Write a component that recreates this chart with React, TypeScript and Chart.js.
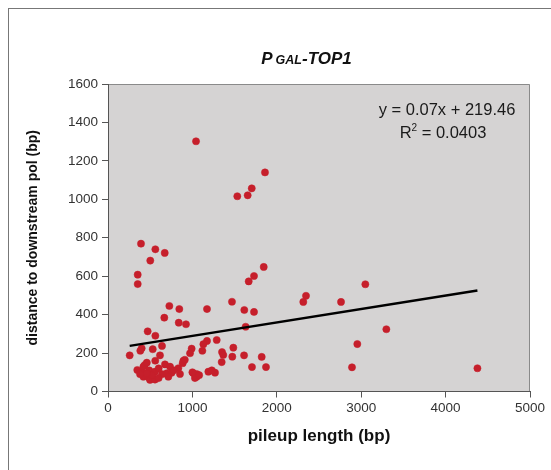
import React, { useEffect, useRef } from 'react';
import { Chart, registerables } from 'chart.js';

Chart.register(...registerables);

// pileup length (bp)
const pileupLength = [
  1043, 1532, 1655, 1703, 1860,
  391, 561, 672, 501, 352, 352,
  1845, 1730, 1667, 1469, 2346, 2314,
  3049, 2761, 3298, 2954, 2891, 4377,
  727, 845, 1173, 1615, 1730,
  667, 838, 924, 1631,
  470, 561, 1288, 1173, 1130,
  640, 399, 991, 1485, 530, 383, 1118, 1351,
  616, 972, 257, 1366, 1612, 1473, 1821,
  1347, 893, 885, 1706, 1872,
  435, 675, 735, 833, 347, 399, 489, 557, 695, 754, 853, 1011, 1051, 1189, 1268,
  419, 478, 537, 715, 1051, 498, 557, 1030, 420, 460, 560, 600, 640, 380, 520,
  1080, 1000, 600, 460, 780, 1230, 910,
];

// distance to downstream pol (bp)
const distanceDownstream = [
  1302, 1016, 1021, 1057, 1140,
  769, 740, 721, 681, 608, 559,
  648, 601, 573, 467, 498, 466,
  558, 466, 324, 247, 126, 121,
  445, 429, 429, 424, 414,
  384, 358, 350, 337,
  313, 290, 268, 263, 246,
  237, 225, 223, 228, 220, 212, 212, 205,
  188, 199, 188, 190, 188, 181, 180,
  153, 160, 147, 127, 127,
  138, 141, 129, 121, 112, 103, 110, 103, 95, 98, 91, 95, 91, 103, 98,
  77, 74, 69, 77, 77, 60, 62, 70, 130, 150, 160, 120, 90, 90, 85,
  85, 100, 70, 95, 110, 110, 165,
];

const xTickValues = [0, 1000, 2000, 3000, 4000, 5000];
const yTickValues = [0, 200, 400, 600, 800, 1000, 1200, 1400, 1600];

// linear trend line (Excel) parameters
const trendSlope = 0.07;
const trendIntercept = 219.46;
const equationLabel = 'y = 0.07x + 219.46';
const rSquaredLabel = '0.0403';

const titleParts = ['P', 'GAL', '-TOP1'];
const xAxisTitle = 'pileup length (bp)';
const yAxisTitle = 'distance to downstream pol (bp)';

const FONT = "Arial, 'Liberation Sans', sans-serif";

export default function App() {
  const canvasRef = useRef<HTMLCanvasElement | null>(null);

  useEffect(() => {
    const canvas = canvasRef.current;
    if (!canvas) return;

    const points = pileupLength.map((x, i) => ({ x, y: distanceDownstream[i] }));
    const xMin = Math.min(...pileupLength);
    const xMax = Math.max(...pileupLength);
    const trend = [
      { x: xMin, y: trendSlope * xMin + trendIntercept },
      { x: xMax, y: trendSlope * xMax + trendIntercept },
    ];

    const plotBg = {
      id: 'plotBg',
      beforeDraw(chart: any) {
        const { ctx, chartArea: a } = chart;
        ctx.save();
        ctx.fillStyle = '#d5d3d3';
        ctx.fillRect(a.left, a.top, a.right - a.left, a.bottom - a.top);
        ctx.strokeStyle = '#8a8a8a';
        ctx.lineWidth = 1;
        ctx.beginPath();
        ctx.moveTo(a.left, a.top + 0.5);
        ctx.lineTo(a.right - 0.5, a.top + 0.5);
        ctx.lineTo(a.right - 0.5, a.bottom);
        ctx.stroke();
        ctx.restore();
      },
    };

    const texts = {
      id: 'texts',
      afterDraw(chart: any) {
        const { ctx, chartArea: a } = chart;
        ctx.save();
        // title with small caps "GAL"
        const big = `italic bold 17px ${FONT}`;
        const small = `italic bold 12.5px ${FONT}`;
        ctx.fillStyle = '#111';
        ctx.textBaseline = 'alphabetic';
        ctx.textAlign = 'left';
        ctx.font = big;
        const w0 = ctx.measureText(titleParts[0]).width + 3;
        const w2 = ctx.measureText(titleParts[2]).width;
        ctx.font = small;
        const w1 = ctx.measureText(titleParts[1]).width;
        const total = w0 + w1 + w2;
        let tx = 297.5 - total / 2;
        const ty = 55;
        ctx.font = big;
        ctx.fillText(titleParts[0], tx, ty);
        tx += w0;
        ctx.font = small;
        ctx.fillText(titleParts[1], tx, ty);
        tx += w1;
        ctx.font = big;
        ctx.fillText(titleParts[2], tx, ty);

        // equation
        const eqFont = `16.5px ${FONT}`;
        ctx.fillStyle = '#1a1a1a';
        ctx.font = eqFont;
        ctx.textAlign = 'center';
        ctx.textBaseline = 'middle';
        ctx.fillText(equationLabel, a.right - 83, a.top + 26);
        // R^2 line
        const rPart = 'R';
        const rest = ' = ' + rSquaredLabel;
        const wr = ctx.measureText(rPart).width;
        const wrest = ctx.measureText(rest).width;
        ctx.font = `10px ${FONT}`;
        const wsup = ctx.measureText('2').width;
        const tot = wr + wsup + wrest;
        let rx = a.right - 87 - tot / 2;
        const ry = a.top + 49;
        ctx.textAlign = 'left';
        ctx.font = eqFont;
        ctx.fillText(rPart, rx, ry);
        rx += wr;
        ctx.font = `10px ${FONT}`;
        ctx.fillText('2', rx, ry - 5);
        rx += wsup;
        ctx.font = eqFont;
        ctx.fillText(rest, rx, ry);
        ctx.restore();
      },
    };

    const chart = new Chart(canvas, {
      type: 'scatter',
      data: {
        datasets: [
          {
            label: 'points',
            data: points,
            backgroundColor: '#c61f2b',
            borderColor: '#c61f2b',
            pointRadius: 3.6,
            pointBorderWidth: 0.5,
            order: 2,
          },
          {
            type: 'line',
            label: 'trend',
            data: trend,
            borderColor: '#000',
            borderWidth: 2.5,
            pointRadius: 0,
            fill: false,
            order: 1,
          } as any,
        ],
      },
      options: {
        responsive: false,
        animation: false,
        devicePixelRatio: 1,
        layout: { padding: { top: 75, right: 21, left: 0, bottom: 0 } },
        plugins: {
          legend: { display: false },
          tooltip: { enabled: false },
          title: { display: false },
        },
        scales: {
          x: {
            type: 'linear',
            min: 0,
            max: 5000,
            afterBuildTicks(scale: any) {
              scale.ticks = xTickValues.map((v) => ({ value: v }));
            },
            afterFit(scale: any) {
              scale.height = 78.5;
            },
            grid: {
              display: true,
              drawOnChartArea: false,
              drawTicks: true,
              tickLength: 6,
              color: '#555',
            },
            border: { display: true, color: '#555', width: 1 },
            ticks: {
              padding: 3,
              color: '#333',
              font: { family: FONT, size: 13.5 },
              maxRotation: 0,
              callback: (v: any) => String(v),
            },
            title: {
              display: true,
              text: xAxisTitle,
              color: '#111',
              font: { family: FONT, size: 17, weight: 'bold' },
              padding: { top: 0, bottom: 23 },
            },
          },
          y: {
            type: 'linear',
            min: 0,
            max: 1600,
            afterBuildTicks(scale: any) {
              scale.ticks = yTickValues.map((v) => ({ value: v }));
            },
            afterFit(scale: any) {
              scale.width = 99;
            },
            grid: {
              display: true,
              drawOnChartArea: false,
              drawTicks: true,
              tickLength: 6,
              color: '#555',
            },
            border: { display: true, color: '#555', width: 1 },
            ticks: {
              padding: 4,
              color: '#333',
              font: { family: FONT, size: 13.5 },
              callback: (v: any) => String(v),
            },
            title: {
              display: true,
              text: yAxisTitle,
              color: '#111',
              font: { family: FONT, size: 14, weight: 'bold' },
              padding: { top: 15.5, bottom: 0 },
            },
          },
        },
      },
      plugins: [plotBg, texts],
    });

    return () => chart.destroy();
  }, []);

  return (
    <div
      style={{
        position: 'fixed',
        left: 8,
        top: 8,
        width: 542,
        height: 461,
        borderLeft: '1px solid #777',
        borderTop: '1px solid #777',
        background: '#fff',
        overflow: 'hidden',
      }}
    >
      <canvas ref={canvasRef} width={542} height={461} style={{ display: 'block' }} />
    </div>
  );
}
